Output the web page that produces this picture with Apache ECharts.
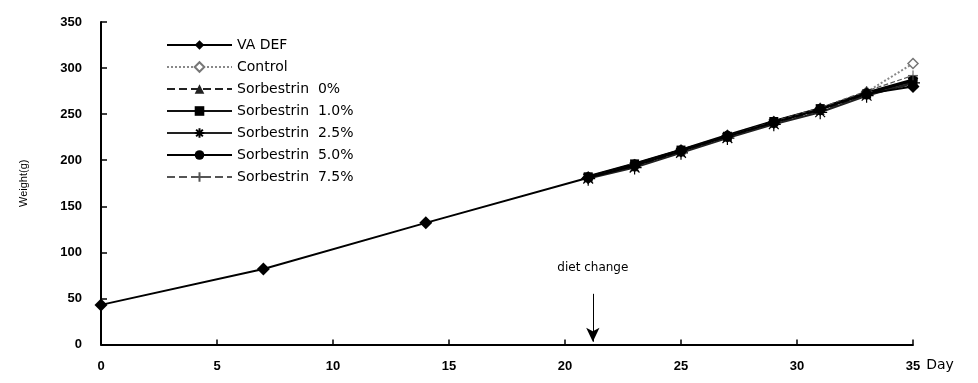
<!DOCTYPE html>
<html>
<head>
<meta charset="utf-8">
<script src="https://cdn.jsdelivr.net/npm/echarts@6/dist/echarts.min.js"></script>
<style>html,body{margin:0;padding:0;background:#fff}#c{width:978px;height:383px}</style>
</head>
<body>
<div id="c"></div>
<script>
const days = [0, 7, 14, 21, 23, 25, 27, 29, 31, 33, 35];
const vaDef      = [43, 82, 132, 181, 194, 210, 226, 241, 255, 272, 280];
const control    = [null, null, null, 181, 195, 211, 227, 242, 256, 274, 305];
const sorb0      = [null, null, null, 181, 193, 209, 225, 240, 254, 271, 283];
const sorb10     = [null, null, null, 182, 196, 211, 226, 242, 256, 272, 286];
const sorb25     = [null, null, null, 180, 192, 208, 224, 239, 252, 270, 284];
const sorb50     = [null, null, null, 182, 196, 211, 227, 242, 256, 273, 287];
const sorb75     = [null, null, null, 181, 194, 210, 226, 242, 257, 275, 292];
const yTicks = [0, 50, 100, 150, 200, 250, 300, 350];
const xTicks = [0, 5, 10, 15, 20, 25, 30, 35];
const dietChangeDay = 21.2;
const arrowFrom = 55, arrowTo = 3;

const pair = arr => days.map((d, i) => [d, arr[i]]);
const asterisk = 'path://M0,5L10,5M5,0L5,10M1.5,1.5L8.5,8.5M8.5,1.5L1.5,8.5';
const plus = 'path://M5,0L5,10M0,5L10,5';

const chart = echarts.init(document.getElementById('c'), null, {renderer: 'canvas'});
const labelFont = {fontFamily: 'Liberation Sans', fontWeight: 'bold', fontSize: 13, color: '#000'};

chart.setOption({
  animation: false,
  backgroundColor: '#fff',
  grid: {left: 101, right: 65, top: 22, bottom: 38.5},
  legend: {
    orient: 'vertical', left: 161, top: 33, itemWidth: 65, itemHeight: 12, itemGap: 8, padding: 5,
    textStyle: {fontFamily: 'DejaVu Sans', fontSize: 14, color: '#000'},
    data: ['VA DEF', 'Control', 'Sorbestrin  0%', 'Sorbestrin  1.0%', 'Sorbestrin  2.5%', 'Sorbestrin  5.0%', 'Sorbestrin  7.5%']
  },
  xAxis: {
    type: 'value', min: 0, max: 35, interval: 5,
    name: 'Day', nameLocation: 'end', nameGap: 13,
    nameTextStyle: {fontFamily: 'DejaVu Sans', fontSize: 14, color: '#000', align: 'left', verticalAlign: 'top', padding: [14, 0, 0, 0]},
    axisLine: {lineStyle: {color: '#000', width: 2}},
    axisTick: {inside: true, length: 5, lineStyle: {color: '#000', width: 1.5}},
    axisLabel: Object.assign({margin: 15, formatter: v => xTicks.includes(v) ? String(v) : ''}, labelFont),
    splitLine: {show: false}
  },
  yAxis: {
    type: 'value', min: 0, max: 350, interval: 50,
    name: 'Weight(g)', nameLocation: 'middle', nameGap: 72,
    nameTextStyle: {fontFamily: 'Liberation Sans', fontSize: 11, color: '#000'},
    axisLine: {lineStyle: {color: '#000', width: 2}},
    axisTick: {inside: true, length: 6, lineStyle: {color: '#000', width: 1.5}},
    axisLabel: Object.assign({margin: 19, formatter: v => yTicks.includes(v) ? String(v) : ''}, labelFont),
    splitLine: {show: false}
  },
  series: [
    {
      name: 'VA DEF', type: 'line', data: pair(vaDef), connectNulls: false,
      symbol: 'diamond', symbolSize: 13,
      lineStyle: {color: '#000', width: 2}, itemStyle: {color: '#000'},
      z: 5,
      markLine: {
        silent: true, symbol: ['none', 'arrow'], symbolSize: [10, 14],
        lineStyle: {color: '#000', width: 1, type: 'solid'},
        label: {show: true, position: 'start', distance: 20, formatter: 'diet change',
          fontFamily: 'DejaVu Sans', fontSize: 12, color: '#000'},
        data: [[{coord: [dietChangeDay, arrowFrom]}, {coord: [dietChangeDay, arrowTo]}]]
      }
    },
    {
      name: 'Control', type: 'line', data: pair(control),
      symbol: 'diamond', symbolSize: 10,
      lineStyle: {color: '#888', width: 2, type: 'dotted'},
      itemStyle: {color: '#fff', borderColor: '#777', borderWidth: 1.5}
    },
    {
      name: 'Sorbestrin  0%', type: 'line', data: pair(sorb0),
      symbol: 'triangle', symbolSize: 9,
      lineStyle: {color: '#222', width: 2, type: 'dashed'}, itemStyle: {color: '#222'}
    },
    {
      name: 'Sorbestrin  1.0%', type: 'line', data: pair(sorb10),
      symbol: 'rect', symbolSize: 9,
      lineStyle: {color: '#111', width: 2}, itemStyle: {color: '#000'}
    },
    {
      name: 'Sorbestrin  2.5%', type: 'line', data: pair(sorb25),
      symbol: asterisk, symbolSize: 14,
      lineStyle: {color: '#222', width: 2}, itemStyle: {color: '#000', borderColor: '#000', borderWidth: 1.2}
    },
    {
      name: 'Sorbestrin  5.0%', type: 'line', data: pair(sorb50),
      symbol: 'circle', symbolSize: 9,
      lineStyle: {color: '#000', width: 3}, itemStyle: {color: '#000'}
    },
    {
      name: 'Sorbestrin  7.5%', type: 'line', data: pair(sorb75),
      symbol: plus, symbolSize: 10,
      lineStyle: {color: '#555', width: 1.2, type: 'dashed'}, itemStyle: {color: '#555', borderColor: '#555', borderWidth: 1}
    }
  ]
});
</script>
</body>
</html>
